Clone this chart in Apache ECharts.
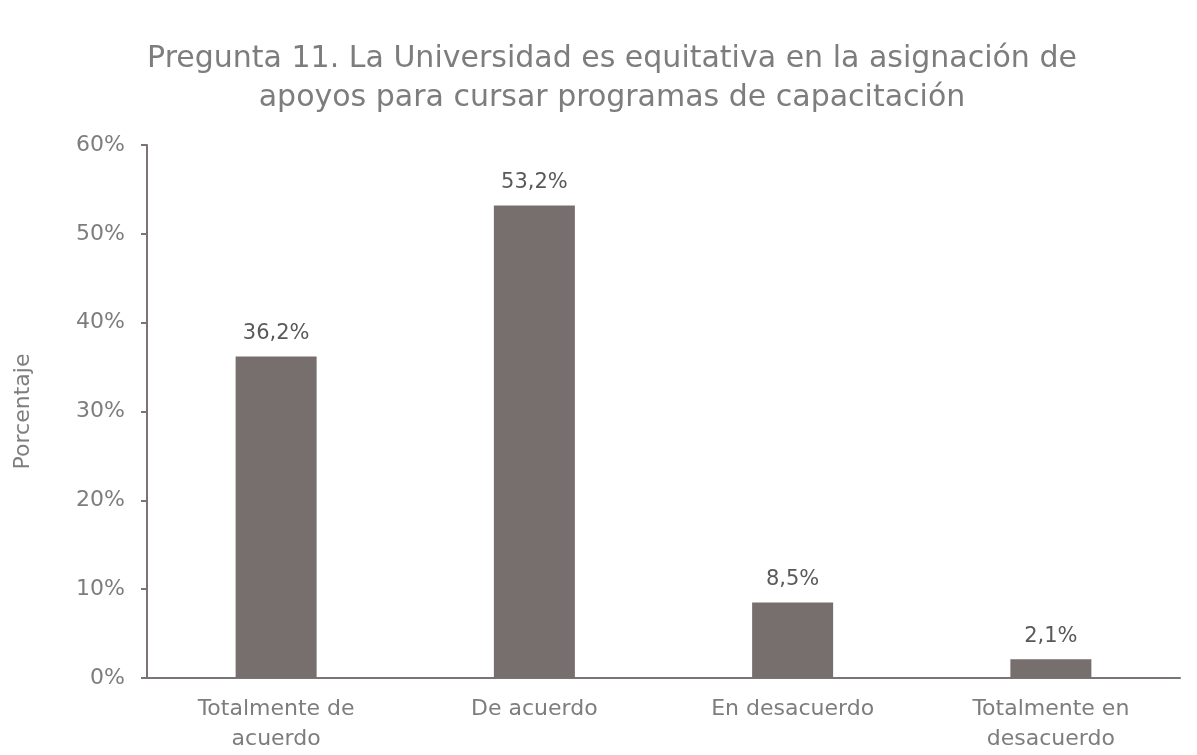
<!DOCTYPE html>
<html>
<head>
<meta charset="utf-8">
<script src="https://cdn.jsdelivr.net/npm/echarts@6/dist/echarts.min.js"></script>
<style>
  html, body { margin: 0; padding: 0; background: #fff; }
  #main { width: 1197px; height: 755px; }
</style>
</head>
<body>
<div id="main"></div>
<script>
var categories = ['Totalmente de\nacuerdo', 'De acuerdo', 'En desacuerdo', 'Totalmente en\ndesacuerdo'];
var values = [36.2, 53.2, 8.5, 2.1];
var yTicks = [0, 10, 20, 30, 40, 50, 60];

var myChart = echarts.init(document.getElementById('main'));

var option = {
    backgroundColor: '#fff',
    textStyle: { fontFamily: 'DejaVu Sans' },
    title: {
        text: 'Pregunta 11. La Universidad es equitativa en la asignación de\napoyos para cursar programas de capacitación',
        left: 607,
        top: 35,
        textAlign: 'center',
        textStyle: {
            fontSize: 30,
            fontWeight: 'normal',
            color: '#7d7d7d',
            lineHeight: 39,
            fontFamily: 'DejaVu Sans'
        }
    },
    grid: {
        left: 147,
        right: 17,
        top: 145,
        bottom: 77
    },
    xAxis: {
        type: 'category',
        data: categories,
        axisLine: { lineStyle: { color: '#7a7474', width: 2 } },
        axisTick: { show: false },
        axisLabel: {
            color: '#7d7d7d',
            fontSize: 22,
            lineHeight: 30,
            margin: 16
        }
    },
    yAxis: {
        type: 'value',
        min: yTicks[0],
        max: yTicks[yTicks.length - 1],
        interval: 10,
        name: 'Porcentaje',
        nameLocation: 'middle',
        nameGap: 113,
        nameTextStyle: { color: '#7d7d7d', fontSize: 22 },
        axisLine: { show: true, lineStyle: { color: '#7a7474', width: 2 } },
        axisTick: { show: true, length: 6, lineStyle: { color: '#7a7474', width: 2 } },
        splitLine: { show: false },
        axisLabel: {
            color: '#7d7d7d',
            fontSize: 22,
            margin: 22,
            formatter: '{value}%'
        }
    },
    series: [{
        type: 'bar',
        data: values,
        barWidth: 81,
        itemStyle: { color: '#776e6e' },
        label: {
            show: true,
            position: 'top',
            distance: 12,
            color: '#595959',
            fontSize: 21,
            formatter: function (p) {
                return p.value.toFixed(1).replace('.', ',') + '%';
            }
        }
    }]
};

myChart.setOption(option);
</script>
</body>
</html>
